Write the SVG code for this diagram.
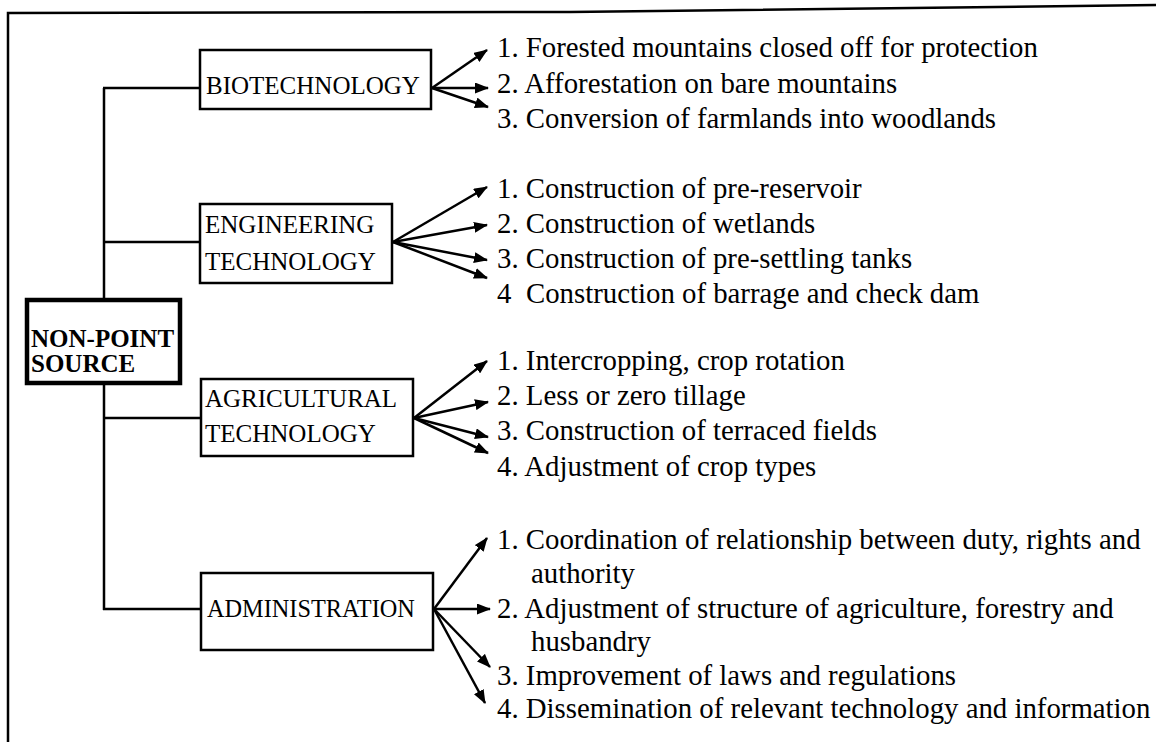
<svg xmlns="http://www.w3.org/2000/svg" width="1156" height="742" viewBox="0 0 1156 742">
<defs>
<style>
.frame{fill:none;stroke:#000;stroke-width:2.5}
.box{fill:#fff;stroke:#000;stroke-width:2.5}
.nps{fill:#fff;stroke:#000;stroke-width:4.5}
.ln{fill:none;stroke:#000;stroke-width:2.5}
.arr{fill:none;stroke:#000;stroke-width:2.5;marker-end:url(#ah)}
.lbl{font-family:"Liberation Serif","Times New Roman",serif;font-size:25px;fill:#000}
.bold{font-family:"Liberation Serif","Times New Roman",serif;font-size:25px;font-weight:bold;fill:#000}
.item{font-family:"Liberation Serif","Times New Roman",serif;font-size:28.8px;fill:#000}
</style>
<marker id="ah" markerUnits="userSpaceOnUse" markerWidth="14" markerHeight="11" refX="13" refY="5.5" orient="auto">
<path d="M0,0 L14,5.5 L0,11 z" fill="#000"/>
</marker>
</defs>
<rect width="1156" height="742" fill="#fff"/>
<polyline class="frame" points="8,742 8,13 570,12 1156,5"/>

<g id="connectors">
<line class="ln" x1="104" y1="88" x2="104" y2="610"/>
<line class="ln" x1="103" y1="88" x2="200" y2="88"/>
<line class="ln" x1="103" y1="242" x2="200" y2="242"/>
<line class="ln" x1="103" y1="418" x2="201" y2="418"/>
<line class="ln" x1="103" y1="609" x2="201" y2="609"/>
<line class="arr" x1="432" y1="88" x2="487" y2="50"/>
<line class="arr" x1="432" y1="88" x2="488" y2="88"/>
<line class="arr" x1="432" y1="88" x2="488" y2="107"/>
<line class="arr" x1="393" y1="242" x2="487" y2="187"/>
<line class="arr" x1="393" y1="242" x2="487" y2="225"/>
<line class="arr" x1="393" y1="242" x2="487" y2="260"/>
<line class="arr" x1="393" y1="242" x2="487" y2="278"/>
<line class="arr" x1="414" y1="418" x2="487" y2="361"/>
<line class="arr" x1="414" y1="418" x2="488" y2="402"/>
<line class="arr" x1="414" y1="418" x2="488" y2="437"/>
<line class="arr" x1="414" y1="418" x2="488" y2="453"/>
<line class="arr" x1="434" y1="609" x2="487" y2="538"/>
<line class="arr" x1="434" y1="609" x2="490" y2="609"/>
<line class="arr" x1="434" y1="609" x2="490" y2="667"/>
<line class="arr" x1="434" y1="609" x2="485" y2="703"/>
</g>

<g id="nps">
<rect class="nps" x="27" y="300" width="153" height="83"/>
<text class="bold" x="31" y="347">NON-POINT</text>
<text class="bold" x="31" y="372">SOURCE</text>
</g>

<g id="bio">
<rect class="box" x="200" y="50" width="231" height="59"/>
<text class="lbl" x="206" y="94">BIOTECHNOLOGY</text>
</g>
<g id="bio-items">
<text class="item" x="497" y="57">1. Forested mountains closed off for protection</text>
<text class="item" x="497" y="93">2. Afforestation on bare mountains</text>
<text class="item" x="497" y="128">3. Conversion of farmlands into woodlands</text>
</g>

<g id="eng">
<rect class="box" x="200" y="204" width="192" height="79"/>
<text class="lbl" x="205" y="233">ENGINEERING</text>
<text class="lbl" x="205" y="270">TECHNOLOGY</text>
</g>
<g id="eng-items">
<text class="item" x="497" y="198">1. Construction of pre-reservoir</text>
<text class="item" x="497" y="233">2. Construction of wetlands</text>
<text class="item" x="497" y="268">3. Construction of pre-settling tanks</text>
<text class="item" x="497" y="303">4<tspan x="526">Construction of barrage and check dam</tspan></text>
</g>

<g id="agr">
<rect class="box" x="201" y="379" width="212" height="77"/>
<text class="lbl" x="205" y="407">AGRICULTURAL</text>
<text class="lbl" x="205" y="442">TECHNOLOGY</text>
</g>
<g id="agr-items">
<text class="item" x="497" y="370">1. Intercropping, crop rotation</text>
<text class="item" x="497" y="405">2. Less or zero tillage</text>
<text class="item" x="497" y="440">3. Construction of terraced fields</text>
<text class="item" x="497" y="476">4. Adjustment of crop types</text>
</g>

<g id="adm">
<rect class="box" x="201" y="573" width="232" height="77"/>
<text class="lbl" x="207" y="617" style="font-size:24.3px">ADMINISTRATION</text>
</g>
<g id="adm-items">
<text class="item" x="497" y="549">1. Coordination of relationship between duty, rights and</text>
<text class="item" x="531" y="583">authority</text>
<text class="item" x="497" y="618">2. Adjustment of structure of agriculture, forestry and</text>
<text class="item" x="531" y="651">husbandry</text>
<text class="item" x="497" y="685">3. Improvement of laws and regulations</text>
<text class="item" x="497" y="718">4. Dissemination of relevant technology and information</text>
</g>
</svg>
